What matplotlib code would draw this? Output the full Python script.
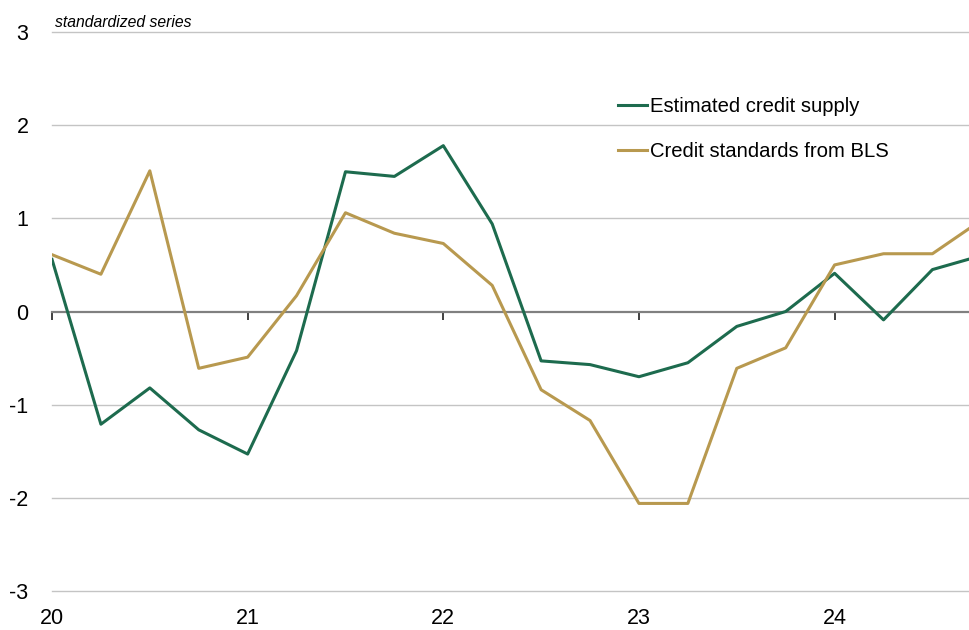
import matplotlib
matplotlib.use("Agg")
import matplotlib.pyplot as plt

plt.rcParams["font.family"] = ["Liberation Sans Narrow", "Liberation Sans", "DejaVu Sans"]

# quarterly observations, x in years (20 = 2020)
quarters = [20.0, 20.25, 20.5, 20.75, 21.0, 21.25, 21.5, 21.75, 22.0, 22.25,
            22.5, 22.75, 23.0, 23.25, 23.5, 23.75, 24.0, 24.25, 24.5, 24.75]
credit_supply = [0.56, -1.21, -0.82, -1.27, -1.53, -0.42, 1.50, 1.45, 1.78, 0.94,
                 -0.53, -0.57, -0.70, -0.55, -0.16, 0.00, 0.41, -0.09, 0.45, 0.60]
bls_standards = [0.61, 0.40, 1.51, -0.61, -0.49, 0.17, 1.06, 0.84, 0.73, 0.28,
                 -0.84, -1.17, -2.06, -2.06, -0.61, -0.39, 0.50, 0.62, 0.62, 0.98]
year_ticks = [20, 21, 22, 23, 24]
y_ticks = [-3, -2, -1, 0, 1, 2, 3]

GREEN = "#1d6b4e"
GOLD = "#b8994f"

fig = plt.figure(figsize=(9.7, 6.3), dpi=100)
ax = fig.add_axes([0.0536, 0.0619, 0.946, 0.8873])

for y in y_ticks:
    if y == 0:
        ax.axhline(0, color="#808080", lw=1.6, zorder=1, clip_on=False)
    else:
        ax.axhline(y, color="#c4c4c4", lw=1.0, zorder=1, clip_on=False)

ax.plot(quarters, credit_supply, color=GREEN, lw=2.2, label="Estimated credit supply", zorder=3)
ax.plot(quarters, bls_standards, color=GOLD, lw=2.2, label="Credit standards from BLS", zorder=3)

ax.set_xlim(20, 24.69)
ax.set_ylim(-3, 3)
ax.set_yticks(y_ticks)
ax.set_yticklabels([str(v) for v in y_ticks])
ax.set_xticks(year_ticks)
ax.set_xticklabels([str(v) for v in year_ticks])
ax.tick_params(axis="y", length=0, pad=17, labelsize=15.5)
ax.tick_params(axis="x", length=0, pad=12, labelsize=15.5)
for s in ax.spines.values():
    s.set_visible(False)

# year ticks hanging down from the zero line
zero_axis = ax.secondary_xaxis(0.5)
zero_axis.set_xticks(year_ticks)
zero_axis.set_xticklabels([])
zero_axis.xaxis.set_ticks_position("bottom")
zero_axis.tick_params(axis="x", direction="out", length=6, width=1.4, color="#404040")
for s in zero_axis.spines.values():
    s.set_visible(False)

ax.text(0.003, 1.004, "standardized series", transform=ax.transAxes,
        fontsize=11.3, style="italic", ha="left", va="bottom")

ax.legend(loc="upper left", bbox_to_anchor=(0.608, 0.898), frameon=False,
          fontsize=14.6, handlelength=1.45, handletextpad=0.15, labelspacing=1.3,
          borderaxespad=0)

fig.savefig("out.png", dpi=100)
